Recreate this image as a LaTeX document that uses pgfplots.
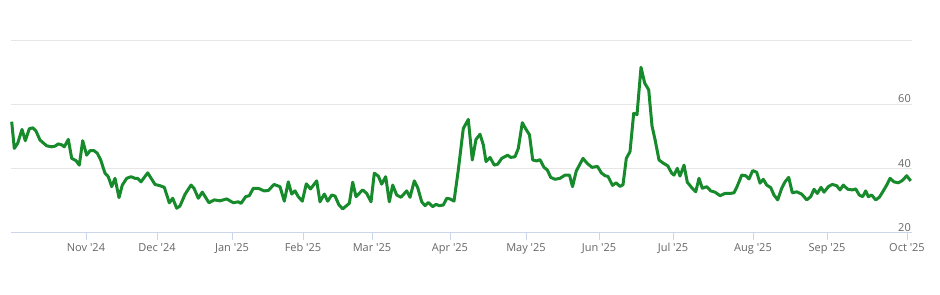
\documentclass[border=0pt]{standalone}
\usepackage{fontspec}
\setmainfont{Open Sans}
\usepackage{pgfplots}
\pgfplotsset{compat=1.18}
\definecolor{linegreen}{HTML}{178A2C}
\definecolor{gridc}{HTML}{E6E6E6}
\definecolor{axisc}{HTML}{CCD6EB}
\definecolor{labc}{HTML}{666666}
\begin{document}
\begin{tikzpicture}
\fill[white] (0,0) rectangle (940bp,295bp);
\begin{axis}[
  at={(11bp,62bp)}, anchor=south west,
  scale only axis, width=901bp, height=193bp,
  xmin=11, xmax=912, ymin=20, ymax=80,
  axis x line*=bottom, axis y line*=right,
  x axis line style={draw=axisc, line width=1bp, -},
  y axis line style={draw=none},
  xtick={86,157,232,303,372,450,526,599,673,753,827,907},
  xticklabels={Nov \textquotesingle24, Dec \textquotesingle24, Jan \textquotesingle25, Feb \textquotesingle25, Mar \textquotesingle25, Apr \textquotesingle25, May \textquotesingle25, Jun \textquotesingle25, Jul \textquotesingle25, Aug \textquotesingle25, Sep \textquotesingle25, Oct \textquotesingle25},
  xtick align=outside,
  major tick length=7bp,
  x tick style={draw=axisc, line width=1bp},
  ytick={20,40,60,80},
  yticklabels={20,40,60,{}},
  y tick style={draw=none},
  ymajorgrids,
  grid style={draw=gridc, line width=1bp},
  xticklabel style={font=\fontsize{11bp}{13bp}\selectfont, text=labc, inner sep=0pt, yshift=-3bp},
  yticklabel style={font=\fontsize{11bp}{13bp}\selectfont, text=labc, anchor=base east, inner sep=0pt, xshift=-1bp, yshift=1.5bp},
  clip=false,
]
\addplot[linegreen, line width=3bp, line join=round, mark=none] coordinates {
(11.7,54.6)(14.3,46.3)(17.7,47.9)(22,52.2)(25.3,48.7)(29.3,52.4)(32.7,52.7)(36,51.7)(40,48.9)
(46.7,47.1)(51.7,46.8)(55,47.0)(58.3,47.7)(61.7,47.4)(64.3,46.8)(68.3,49.1)(71.7,43.2)(76,42.5)
(79.3,41.1)(82.7,48.7)(86.7,44.2)(90,45.6)(94,45.6)(97.3,44.8)(100.7,42.7)(105,38.6)(108.3,37.5)
(111.7,34.4)(115,37.0)(119,31.0)(122.3,34.9)(126.7,37.0)(131,37.5)(135,37.0)(137.7,37.0)(141,35.9)
(147.7,38.7)(155,35.1)(160,34.7)(164.3,34.2)(169.3,29.4)(172.7,30.8)(176.7,27.7)(180,28.4)(185,32.0)
(191,34.9)(194,33.9)(198.3,30.8)(202.3,32.7)(209,29.4)(214.3,30.3)(220,30.0)(226.7,30.6)(233.3,29.4)
(238.3,29.7)(241,29.2)(245.7,31.3)(249.3,31.6)(253.3,33.9)(258.3,33.9)(264,33.1)(268.3,33.2)(274,35.1)
(280,34.4)(284.3,29.9)(288.3,35.9)(291.7,32.1)(295,33.1)(298.3,31.3)(302.3,29.9)(306.3,35.3)(310.5,33.7)
(316.7,36.2)(320,29.7)(324.3,32.1)(327.7,29.9)(331.7,31.8)(335,31.5)(339,28.7)(342.7,27.5)(349.3,29.2)
(352.7,35.8)(356,31.3)(362.7,33.4)(366.7,32.3)(371,29.7)(374.3,38.6)(378.3,37.7)(381.7,35.2)(385.7,37.5)
(389.3,29.7)(392.7,34.9)(396.7,31.8)(401,31.1)(406.7,33.1)(410,31.1)(414.3,36.2)(417.7,34.1)(421.7,29.7)
(425,28.5)(428.3,29.5)(432.7,28.2)(436,28.9)(439.3,28.5)(443.3,28.7)(446.7,30.8)(450,30.6)(454,29.9)
(458.3,39.6)(463.3,52.5)(468.3,55.3)(472.3,42.7)(476,49.1)(480,50.7)(483.3,47.4)(486,42.2)(490,43.5)
(494.3,41.1)(497.7,41.4)(501.7,43.2)(507.7,44.2)(510.7,43.5)(515,43.7)(518.3,46.3)(522.3,54.3)(525.5,52.5)
(529.5,50.5)(532.7,42.7)(536.7,42.4)(540,42.8)(544,40.4)(547.3,39.6)(550.7,37.3)(555,36.7)(560,37.0)
(565,38.0)(569.5,38.0)(572.5,34.4)(576.3,39.3)(583,43.2)(587,41.7)(592,40.4)(597.5,40.7)(601.3,38.7)
(605,37.8)(608,37.6)(612.5,34.8)(616,35.6)(620,34.5)(623,35.0)(626.3,43.2)(630,45.3)(633.7,57.2)
(637,56.8)(641,71.5)(644.7,66.6)(648.7,64.5)(652,53.3)(655,49.1)(659,42.7)(663.3,41.7)(667.7,40.9)
(671.7,38.6)(674,38.0)(677.3,40.1)(680,37.7)(684,41.1)(687.3,35.8)(691.7,34.1)(695.7,32.8)(699,37.0)
(702.3,33.9)(706.7,34.4)(710.7,33.1)(715,32.7)(720,31.6)(725,32.3)(730,32.3)(734,32.5)(737.3,34.6)
(741.7,38.0)(745.7,37.8)(749,36.8)(752.7,39.4)(756.7,38.9)(760,35.5)(763.3,36.7)(766.7,34.9)(770.7,34.1)
(774,31.8)(777.7,30.3)(781.7,33.9)(785,35.9)(788.7,37.3)(792.3,32.5)(796.7,32.8)(801.7,32.1)(806.7,30.3)
(810.7,31.3)(814,33.6)(817.3,32.3)(821,34.2)(824,32.7)(828.3,34.4)(832.3,35.1)(836.7,34.7)(840,33.4)
(843.3,34.9)(847.7,33.6)(852.3,33.4)(855.7,33.7)(859.3,31.8)(862.7,31.3)(865.7,33.1)(868.3,31.3)(871.7,31.8)
(875.7,30.3)(879.3,31.1)(883.3,33.1)(886.7,34.9)(890,37.0)(894,35.9)(898.3,35.6)(902.3,36.3)(906.7,37.8)
(910.7,36.2)
};
\end{axis}
\end{tikzpicture}
\end{document}
